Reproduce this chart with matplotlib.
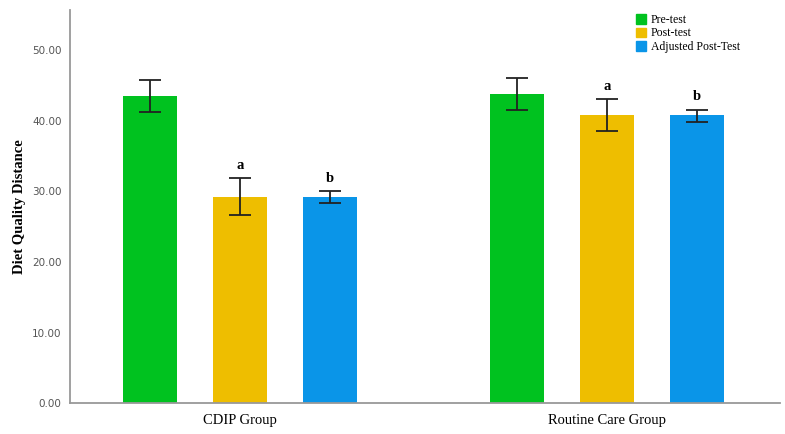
import numpy as np
import matplotlib.pyplot as plt
from matplotlib.patches import Patch

# Diet quality distance by group and test phase
groups = ['CDIP Group', 'Routine Care Group']
series = ['Pre-test', 'Post-test', 'Adjusted Post-Test']
means = [[43.5, 43.8],
         [29.2, 40.8],
         [29.2, 40.8]]
err_low = [[41.3, 41.5],
           [26.6, 38.5],
           [28.4, 39.9]]
err_high = [[45.8, 46.1],
            [31.9, 43.1],
            [30.0, 41.6]]
letters = ['', 'a', 'b']
colors = ['#00C21F', '#EEBE00', '#0A95E8']
yticks = [0, 10, 20, 30, 40, 50]

fig = plt.figure(figsize=(7.85, 4.34), dpi=100)
ax = fig.add_axes([0.089, 0.071, 0.905, 0.906])

x = np.arange(len(groups))
offset = 0.245
width = 0.147

for i, name in enumerate(series):
    pos = x + (i - 1) * offset
    m = np.array(means[i])
    lo = m - np.array(err_low[i])
    hi = np.array(err_high[i]) - m
    ax.bar(pos, m, width=width, color=colors[i], label=name, zorder=2)
    ax.errorbar(pos, m, yerr=[lo, hi], fmt='none', ecolor='#222222',
                elinewidth=1.3, capsize=8, capthick=1.3, zorder=3)
    if letters[i]:
        for p, top in zip(pos, err_high[i]):
            ax.text(p, top + 0.9, letters[i], ha='center', va='bottom',
                    fontsize=10.5, fontweight='bold', family='Liberation Serif')

ax.set_xlim(-0.463, 1.471)
ax.set_ylim(0, 55.7)
ax.set_xticks(x)
ax.set_xticklabels(groups, family='Liberation Serif', fontsize=10.5)
ax.set_yticks(yticks)
ax.set_yticklabels(['%.2f' % v for v in yticks], fontsize=7.5, color='#555555')
ax.tick_params(axis='both', length=0)
ax.tick_params(axis='x', pad=8)
ax.tick_params(axis='y', pad=6)
ax.set_ylabel('Diet Quality Distance', family='Liberation Serif',
              fontweight='bold', fontsize=10.5, labelpad=4)

for s in ['top', 'right']:
    ax.spines[s].set_visible(False)
for s in ['left', 'bottom']:
    ax.spines[s].set_color('#999999')
    ax.spines[s].set_linewidth(1.3)

handles = [Patch(color=c, label=n) for c, n in zip(colors, series)]
ax.legend(handles=handles, loc='upper right', bbox_to_anchor=(0.955, 1.01),
          frameon=False, prop={'family': 'Liberation Serif', 'size': 8.5},
          handlelength=0.9, handleheight=0.9, handletextpad=0.4,
          labelspacing=0.1, borderpad=0.2)

fig.savefig('out.png', dpi=100)
